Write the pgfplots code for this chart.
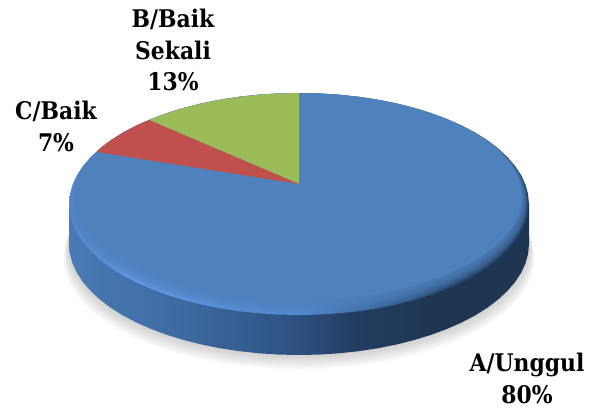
\documentclass[border=0pt]{standalone}
\usepackage{fontspec}
\setmainfont{DejaVu Serif Condensed}
\usepackage{pgfplots}
\usepackage{pgfplotstable}
\pgfplotsset{compat=1.18}

\definecolor{faceblue}{HTML}{4F81BD}
\definecolor{slicered}{HTML}{C0504D}
\definecolor{slicegreen}{HTML}{9BBB59}

% side wall and rim, dark towards the right
\definecolor{sa}{HTML}{4A7AB5}
\definecolor{sb}{HTML}{3D6AA0}
\definecolor{sc}{HTML}{2D5080}
\definecolor{sd}{HTML}{233E62}
\definecolor{se}{HTML}{1F3653}
\definecolor{ra}{HTML}{5488CC}
\definecolor{rb}{HTML}{5D97E0}
\definecolor{rc}{HTML}{5189CF}
\definecolor{rd}{HTML}{3E6CA5}
\definecolor{re}{HTML}{2A4A73}
\definecolor{rf}{HTML}{223C5E}
\pgfdeclarehorizontalshading{sideshade}{100bp}{color(0bp)=(sa); color(25bp)=(sa); color(37.5bp)=(sb); color(50bp)=(sc); color(55.5bp)=(sd); color(64bp)=(se); color(100bp)=(se)}
\pgfdeclarehorizontalshading{rimshade}{100bp}{color(0bp)=(ra); color(25bp)=(ra); color(32bp)=(rb); color(50bp)=(rc); color(58bp)=(rd); color(66bp)=(re); color(75bp)=(rf); color(100bp)=(rf)}

% outline of the top of the pie, in pixels of the picture
\pgfplotstableread{
x y
529 204
528.1 213.7
525.5 223.3
521.2 232.7
515.1 242
507.4 250.9
498.2 259.5
487.4 267.7
475.2 275.4
461.6 282.5
446.8 289
430.9 294.9
414 300.1
396.2 304.6
377.7 308.3
358.5 311.2
338.9 313.3
319.1 314.6
299 315
278.9 314.6
259.1 313.3
239.5 311.2
220.3 308.3
201.8 304.6
184 300.1
167.1 294.9
151.2 289
136.4 282.5
122.8 275.4
110.6 267.7
99.8 259.5
90.6 250.9
82.9 242
76.8 232.7
72.5 223.3
69.9 213.7
69 204
69.9 194.3
72.5 184.7
76.8 175.3
82.9 166
90.6 157.1
99.8 148.5
110.6 140.3
122.8 132.6
136.4 125.5
151.2 119
167.1 113.1
184 107.9
201.8 103.4
220.3 99.7
239.5 96.8
259.1 94.7
278.9 93.4
299 93
319.1 93.4
338.9 94.7
358.5 96.8
377.7 99.7
396.2 103.4
414 107.9
430.9 113.1
446.8 119
461.6 125.5
475.2 132.6
487.4 140.3
498.2 148.5
507.4 157.1
515.1 166
521.2 175.3
525.5 184.7
528.1 194.3
}\outline

\begin{document}
\begin{tikzpicture}
\path[use as bounding box] (0,0) rectangle (444bp,306bp);
\begin{axis}[
    at={(0,0)}, anchor=south west,
    scale only axis,
    width=444bp, height=306bp,
    xmin=0, xmax=592, ymin=0, ymax=408,
    hide axis,
    clip=false,
]
    % soft shadow under the pie
    \pgfplotsinvokeforeach{8,7,...,1}{
        \addplot[fill=black, fill opacity=0.022, draw=none]
            table[x expr={299+(\thisrow{x}-299)*(1+0.003*#1)}, y expr={\thisrow{y}-40-1.8*#1}] {\outline};
    }

    % side wall
    \addplot[shading=sideshade, draw=none] table[y expr={\thisrow{y}-40}] {\outline};
    \addplot[shading=sideshade, draw=none] coordinates {(69,164) (529,164) (529,204) (69,204)};

    % rim, then the flat face going soft into it
    \addplot[shading=rimshade, draw=none] table {\outline};
    \pgfplotsinvokeforeach{1,...,5}{
        \addplot[fill=faceblue, fill opacity=0.3, draw=none]
            table[x expr={299+(\thisrow{x}-299)*(1-0.005*#1)}, y expr={315-(315-\thisrow{y})*(1-0.011*#1)}] {\outline};
    }
    \addplot[fill=faceblue, draw=none]
        table[x expr={299+(\thisrow{x}-299)*(1-0.03)}, y expr={315-(315-\thisrow{y})*(1-0.066)}] {\outline};

    % B/Baik Sekali
    \addplot[fill=slicegreen, draw=none] coordinates {
        (299,224) (299,315) (278.9,314.6) (259.1,313.3) (239.5,311.2) (220.3,308.3)
        (201.8,304.6) (184,300.1) (167.1,294.9) (151.2,289) (149,288)
    };
    % C/Baik
    \addplot[fill=slicered, draw=none] coordinates {
        (299,224) (149,288) (136.4,282.5) (122.8,275.4) (110.6,267.7) (99.8,259.5) (97,256)
    };

    \node[font=\fontsize{18.3}{24}\selectfont\bfseries, align=center, inner sep=1pt] at (axis cs:527,30) {A/Unggul\\80\%};
    \node[font=\fontsize{18.3}{24}\selectfont\bfseries, align=center, inner sep=1pt] at (axis cs:56,282) {C/Baik\\7\%};
    \node[font=\fontsize{18.3}{24}\selectfont\bfseries, align=center, inner sep=1pt] at (axis cs:173,358) {B/Baik\\Sekali\\13\%};
\end{axis}
\end{tikzpicture}
\end{document}
